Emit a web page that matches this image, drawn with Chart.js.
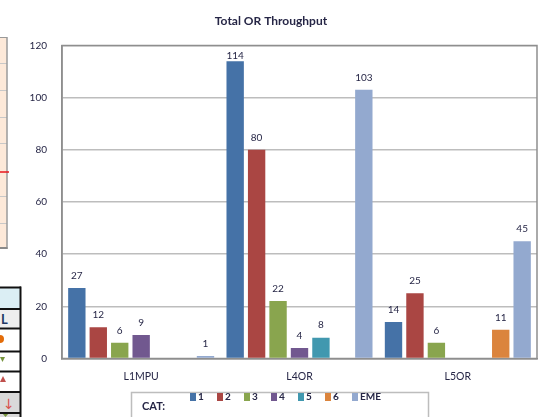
<!DOCTYPE html>
<html>
<head>
<meta charset="utf-8">
<script src="https://cdn.jsdelivr.net/npm/chart.js@4/dist/chart.umd.min.js"></script>
<style>
  html, body { margin: 0; padding: 0; background: #fff; }
  #wrap { position: relative; width: 548px; height: 417px; overflow: hidden; }
  #sheet { position: absolute; left: 0; top: 0; }
  #chart { position: absolute; left: 0; top: 0; }
</style>
</head>
<body>
<div id="wrap">
  <!-- neighbouring worksheet cells at the left edge -->
  <svg id="sheet" width="30" height="417" xmlns="http://www.w3.org/2000/svg">
    <rect x="0" y="37" width="7" height="211" fill="#fde9d9"/>
    <g stroke="#c8c8c8" stroke-width="1">
      <line x1="0" y1="63.5" x2="7" y2="63.5"/>
      <line x1="0" y1="90.5" x2="7" y2="90.5"/>
      <line x1="0" y1="117.5" x2="7" y2="117.5"/>
      <line x1="0" y1="143.5" x2="7" y2="143.5"/>
      <line x1="0" y1="196.5" x2="7" y2="196.5"/>
      <line x1="0" y1="223.5" x2="7" y2="223.5"/>
    </g>
    <line x1="0" y1="37.5" x2="7" y2="37.5" stroke="#999" stroke-width="1"/>
    <line x1="7" y1="37" x2="7" y2="249" stroke="#9a9a9a" stroke-width="1.5"/>
    <line x1="0" y1="248" x2="7.5" y2="248" stroke="#8a8a8a" stroke-width="2"/>
    <line x1="0" y1="172" x2="9" y2="172" stroke="#e8141b" stroke-width="1.5"/>

    <rect x="0" y="287" width="20" height="22" fill="#dbeef4"/>
    <rect x="0" y="309" width="20" height="19" fill="#eeeeee"/>
    <rect x="0" y="392" width="20" height="25" fill="#d9d9d9"/>
    <text x="1" y="324" font-family="Lato" font-weight="bold" font-size="13" fill="#1f3864">L</text>
    <circle cx="0" cy="339" r="4" fill="#e36c09"/>
    <polygon points="0,357 5,357 2.5,362" fill="#76933c"/>
    <polygon points="0,382 6,382 3,376" fill="#c0504d"/>
    <text x="3" y="409" font-family="DejaVu Sans" font-size="14" fill="#d9534f">↓</text>
    <polygon points="2,413 9,413 5.5,417" fill="#76933c"/>
    <g stroke="#111" stroke-width="2">
      <line x1="0" y1="287.5" x2="21" y2="287.5"/>
      <line x1="0" y1="309" x2="21" y2="309"/>
      <line x1="0" y1="328.5" x2="21" y2="328.5"/>
      <line x1="0" y1="351.5" x2="21" y2="351.5"/>
      <line x1="0" y1="371.5" x2="21" y2="371.5"/>
      <line x1="0" y1="392" x2="21" y2="392"/>
      <line x1="0" y1="413" x2="21" y2="413"/>
      <line x1="20.5" y1="286.5" x2="20.5" y2="417"/>
    </g>
  </svg>
  <canvas id="chart" width="548" height="417"></canvas>
</div>
<script>
// Categories and series values
const categories = ['L1MPU', 'L4OR', 'L5OR'];
const cat1 = [27, 114, 14];
const cat2 = [12, 80, 25];
const cat3 = [6, 22, 6];
const cat4 = [9, 4, null];
const cat5 = [null, 8, null];
const cat6 = [null, null, 11];
const catEME = [1, 103, 45];
const seriesNames = ['1', '2', '3', '4', '5', '6', 'EME'];
const yTicks = [0, 20, 40, 60, 80, 100, 120];

const seriesValues = [cat1, cat2, cat3, cat4, cat5, cat6, catEME];
const seriesColors = ['#4572a7', '#aa4643', '#89a54e', '#71588f', '#4198af', '#db843d', '#93a9cf'];

const FONT = 'Lato, "Liberation Sans", sans-serif';
const TEXT = '#262646';

// value labels above each bar
const valueLabels = {
  id: 'valueLabels',
  afterDatasetsDraw(chart) {
    const ctx = chart.ctx;
    ctx.save();
    ctx.font = '10px ' + FONT;
    ctx.fillStyle = TEXT;
    ctx.textAlign = 'center';
    ctx.textBaseline = 'middle';
    chart.data.datasets.forEach((ds, i) => {
      const meta = chart.getDatasetMeta(i);
      meta.data.forEach((bar, j) => {
        const v = ds.data[j];
        if (v === null || v === undefined) return;
        const y = Math.max(bar.y - 12.5, chart.chartArea.top + 10);
        ctx.fillText(String(v), bar.x, y);
      });
    });
    ctx.restore();
  }
};

// plot-area frame, title and the boxed legend
const frameAndLegend = {
  id: 'frameAndLegend',
  beforeDatasetsDraw(chart) {
    const { ctx, chartArea: a } = chart;
    ctx.save();
    ctx.strokeStyle = '#8e8e8e';
    ctx.lineWidth = 1.5;
    ctx.strokeRect(a.left, a.top, a.right - a.left, a.bottom - a.top);
    ctx.restore();
  },
  afterDraw(chart) {
    const ctx = chart.ctx;
    ctx.save();
    // title
    ctx.fillStyle = TEXT;
    ctx.font = 'bold 12px ' + FONT;
    ctx.textAlign = 'center';
    ctx.textBaseline = 'middle';
    ctx.fillText('Total OR Throughput', 271, 21);

    // legend box
    ctx.strokeStyle = '#bdbdbd';
    ctx.lineWidth = 1.5;
    ctx.strokeRect(131.5, 392.5, 297, 30);
    ctx.textAlign = 'left';
    ctx.font = 'bold 11px ' + FONT;
    ctx.fillText('CAT:', 142, 406);
    ctx.font = 'bold 10px ' + FONT;
    chart.data.datasets.forEach((ds, i) => {
      const x = 190 + i * 27;
      ctx.fillStyle = ds.backgroundColor;
      ctx.fillRect(x, 393, 6, 8);
      ctx.fillStyle = TEXT;
      ctx.fillText(ds.label, x + 8, 397);
    });
    ctx.restore();
  }
};

new Chart(document.getElementById('chart'), {
  type: 'bar',
  data: {
    labels: categories,
    datasets: seriesNames.map((name, i) => ({
      label: name,
      data: seriesValues[i],
      backgroundColor: seriesColors[i],
      borderWidth: 0,
      categoryPercentage: 0.948,
      barPercentage: 0.81
    }))
  },
  options: {
    responsive: false,
    animation: false,
    events: [],
    layout: { padding: { top: 45.5, right: 11, bottom: 0, left: 0 } },
    plugins: {
      legend: { display: false },
      title: { display: false },
      tooltip: { enabled: false }
    },
    scales: {
      x: {
        grid: { display: false, drawTicks: false },
        border: { display: true, color: '#8e8e8e', width: 1.5 },
        ticks: { color: TEXT, font: { family: FONT, size: 10.5 }, padding: 12, maxRotation: 0 },
        afterFit(scale) { scale.height = 58.5; }
      },
      y: {
        min: 0,
        max: 120,
        afterBuildTicks(scale) { scale.ticks = yTicks.map(v => ({ value: v })); },
        grid: { color: '#bdbdbd', lineWidth: 1.5, drawTicks: false },
        border: { display: true, color: '#8e8e8e', width: 1.5 },
        ticks: { color: TEXT, font: { family: FONT, size: 10 }, padding: 15 },
        afterFit(scale) { scale.width = 62; }
      }
    }
  },
  plugins: [valueLabels, frameAndLegend]
});
</script>
</body>
</html>
